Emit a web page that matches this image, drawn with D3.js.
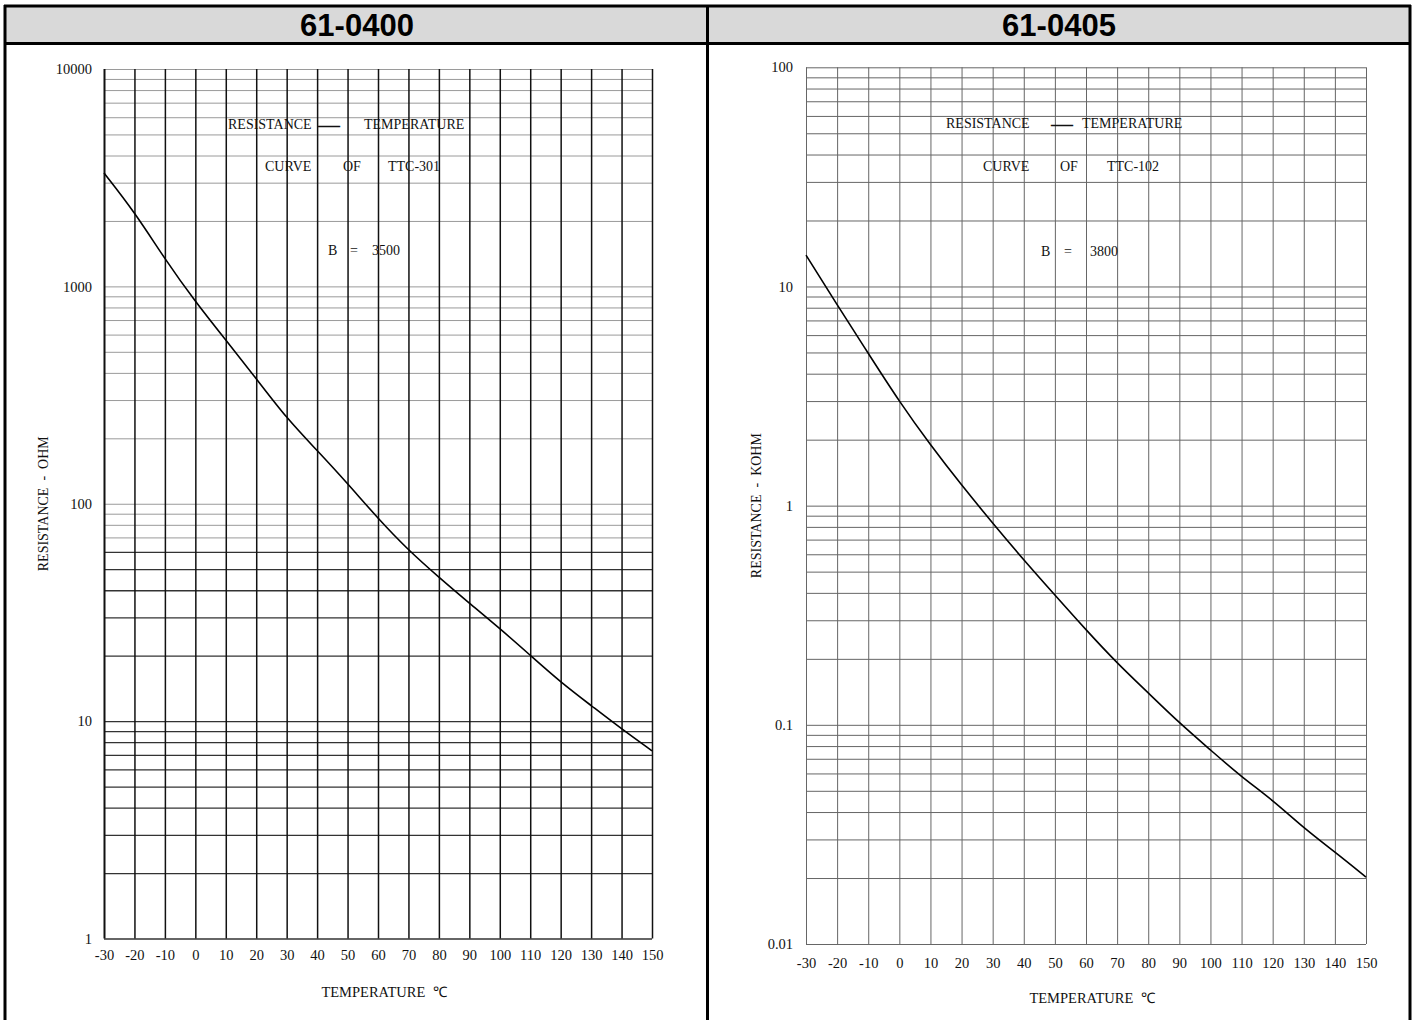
<!DOCTYPE html>
<html><head><meta charset="utf-8">
<script src="https://cdn.jsdelivr.net/npm/d3@7"></script>
<style>
html,body{margin:0;padding:0;background:#fff;}
svg{display:block;}
</style></head>
<body>
<script>
// ---------- DATA ----------
const panelTitles = ["61-0400", "61-0405"];
const temperatures = [-30,-20,-10,0,10,20,30,40,50,60,70,80,90,100,110,120,130,140,150];
// TTC-301 resistance (ohm)
const resistance0400 = [3320,2200,1335,849,566,377,247,176,124,85.5,61.1,45.9,34.9,26.7,20.1,15.1,11.8,9.2,7.3];
// TTC-102 resistance (kohm)
const resistance0405 = [13.9,8.24,4.96,2.98,1.89,1.24,0.832,0.565,0.391,0.271,0.191,0.14,0.102,0.0768,0.0578,0.0454,0.0338,0.0263,0.0202];
const yDecades0400 = [1,10,100,1000,10000];
const yDecades0405 = [0.01,0.1,1,10,100];
const yLabels0400 = ["1","10","100","1000","10000"];
const yLabels0405 = ["0.01","0.1","1","10","100"];
const curveNames = ["TTC-301","TTC-102"];
const bValues = ["3500","3800"];
const yAxisTitles = ["RESISTANCE  -  OHM","RESISTANCE  -  KOHM"];
const xAxisTitle = "TEMPERATURE  ℃";

const W = 1415, H = 1020;
const svg = d3.select("body").append("svg").attr("width", W).attr("height", H);

// ---------- FRAME / HEADER ----------
svg.append("rect").attr("x",5).attr("y",6).attr("width",1405).attr("height",37).attr("fill","#d9d9d9");
const frame = svg.append("g").attr("stroke","#000").attr("stroke-width",3);
frame.append("line").attr("x1",4).attr("x2",1411).attr("y1",6).attr("y2",6);
frame.append("line").attr("x1",4).attr("x2",1411).attr("y1",43.5).attr("y2",43.5);
frame.append("line").attr("x1",5).attr("x2",5).attr("y1",5).attr("y2",1020);
frame.append("line").attr("x1",1410).attr("x2",1410).attr("y1",5).attr("y2",1020);
frame.append("line").attr("x1",707.5).attr("x2",707.5).attr("y1",5).attr("y2",1020);
[357, 1059].forEach((cx,i)=>{
  svg.append("text").attr("x",cx).attr("y",25).attr("text-anchor","middle").attr("dominant-baseline","central")
    .attr("font-family","Liberation Sans, Arial, sans-serif").attr("font-weight","bold").attr("font-size",31)
    .text(panelTitles[i]);
});

// ---------- PANELS ----------
const panels = [
  {x0:104, x1:652, yTop:69, yBot:938.5, domain:[1,10000], data:resistance0400, dec:yDecades0400, lab:yLabels0400,
   vStroke:"#111", vWidth:1.5, tickY:957, yLabX:92, yTitleX:43, xTitleY:992,
   title:{y1:124, y2:166, y3:250, r:[228,318,364], c:[265,343,388], b:[328,350,372]}},
  {x0:806, x1:1366, yTop:67.3, yBot:944, domain:[0.01,100], data:resistance0405, dec:yDecades0405, lab:yLabels0405,
   vStroke:"#666", vWidth:1, tickY:965, yLabX:793, yTitleX:756, xTitleY:998,
   title:{y1:123, y2:166, y3:251, r:[946,1051,1082], c:[983,1060,1107], b:[1041,1064,1090]}}
];

panels.forEach((p,pi)=>{
  const x = d3.scaleLinear().domain([-30,150]).range([p.x0,p.x1]);
  const y = d3.scaleLog().domain(p.domain).range([p.yBot,p.yTop]);
  const g = svg.append("g");
  const font = "Liberation Serif, 'Times New Roman', serif";

  const hVals = [];
  for (let i=0;i<p.dec.length-1;i++){
    for (let k=1;k<=9;k++) hVals.push(p.dec[i]*k);
  }
  hVals.push(p.dec[p.dec.length-1]);

  const hAxis = d3.axisLeft(y).tickValues(hVals).tickSize(-(p.x1-p.x0)).tickFormat("");
  const hg = g.append("g").attr("transform",`translate(${p.x0},0)`).call(hAxis);
  hg.select(".domain").remove();
  hg.selectAll(".tick line").each(function(d){
    const sel = d3.select(this);
    if (pi===0){
      const dark = d <= 60;
      sel.attr("stroke", dark ? "#333" : "#9a9a9a").attr("stroke-width", dark ? 1.3 : 1);
    } else {
      sel.attr("stroke", "#666").attr("stroke-width", 1);
    }
  });

  const vAxis = d3.axisBottom(x).tickValues(temperatures).tickSize(-(p.yBot-p.yTop)).tickFormat("");
  const vg = g.append("g").attr("transform",`translate(0,${p.yBot})`).call(vAxis);
  vg.select(".domain").remove();
  vg.selectAll(".tick line").attr("stroke",p.vStroke).attr("stroke-width",(d)=> (pi===0 && d===-30) ? 2 : p.vWidth);

  const xl = d3.axisBottom(x).tickValues(temperatures).tickSize(0).tickFormat(d=>String(d));
  const xg = g.append("g").attr("transform",`translate(0,${p.tickY-7})`).call(xl);
  xg.select(".domain").remove();
  xg.selectAll("text").attr("font-family",font).attr("font-size",14.5).attr("fill","#111").attr("dy","0.71em").attr("y",0);

  const yl = d3.axisLeft(y).tickValues(p.dec).tickSize(0).tickFormat((d,i)=>p.lab[i]);
  const yg = g.append("g").attr("transform",`translate(${p.yLabX},0)`).call(yl);
  yg.select(".domain").remove();
  yg.selectAll("text").attr("font-family",font).attr("font-size",14.5).attr("fill","#111").attr("x",0).attr("dy","0.32em");

  g.append("text").attr("transform",`translate(${p.yTitleX},${(p.yTop+p.yBot)/2}) rotate(-90)`)
    .attr("text-anchor","middle").attr("dominant-baseline","central")
    .attr("font-family",font).attr("font-size",14).attr("fill","#111").attr("xml:space","preserve").text(yAxisTitles[pi]);
  g.append("text").attr("x",(p.x0+p.x1)/2+6).attr("y",p.xTitleY).attr("text-anchor","middle").attr("dominant-baseline","central")
    .attr("font-family",font).attr("font-size",14.5).attr("fill","#111").attr("xml:space","preserve").text(xAxisTitle);

  const t = p.title;
  const words = [
    [t.r[0], t.y1, "RESISTANCE", 14], [t.r[1], t.y1, "—", 22], [t.r[2], t.y1, "TEMPERATURE", 14],
    [t.c[0], t.y2, "CURVE", 14], [t.c[1], t.y2, "OF", 14], [t.c[2], t.y2, curveNames[pi], 14],
    [t.b[0], t.y3, "B", 14], [t.b[1], t.y3, "=", 14], [t.b[2], t.y3, bValues[pi], 14]
  ];
  words.forEach(w=>{
    g.append("text").attr("x",w[0]).attr("y",w[1]).attr("dominant-baseline","central")
      .attr("font-family",font).attr("font-size",w[3]).attr("font-weight", w[2]==="—" ? "bold" : "normal")
      .attr("fill","#111").text(w[2]);
  });

  const line = d3.line().x((d,i)=>x(temperatures[i])).y(d=>y(d)).curve(d3.curveBasis);
  g.append("path").datum(p.data).attr("d",line).attr("fill","none").attr("stroke","#000").attr("stroke-width",1.6);
});
</script>
</body></html>
